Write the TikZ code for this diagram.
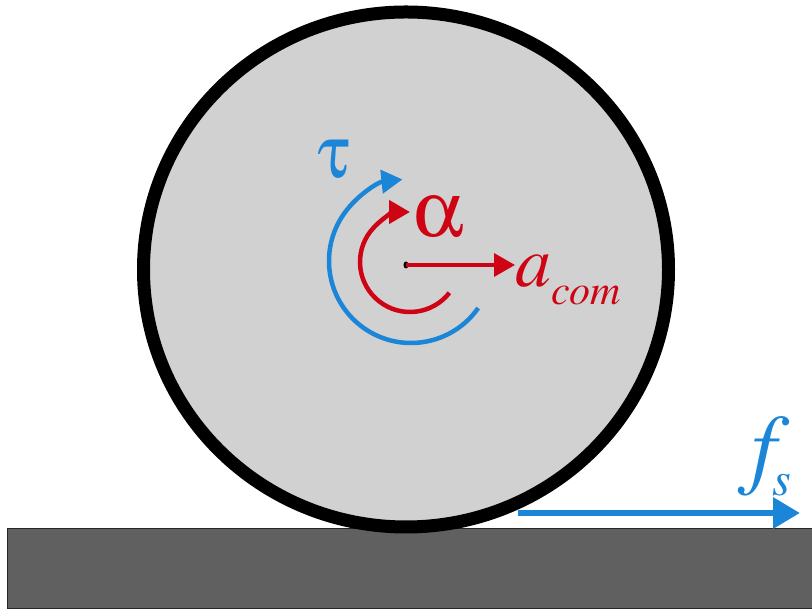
\documentclass[tikz,border=0pt]{standalone}
\usepackage{mathptmx}
\usepackage[Symbol]{upgreek}
\usepackage{xcolor}
\usepackage{tikz}
\usetikzlibrary{arrows.meta,positioning,calc}
\definecolor{wheelgray}{HTML}{D1D1D1}
\definecolor{ground}{HTML}{606060}
\definecolor{torque}{HTML}{1B86D8}
\definecolor{accel}{HTML}{CE0414}
\tikzset{
  >={Triangle[length=21pt,width=23pt]},
  wheel/.style={draw=black,fill=wheelgray,line width=13pt},
  floor/.style={draw=black!85,fill=ground,line width=1pt},
  spin/.style={->,line width=4.5pt},
  push/.style={->,line width=3.5pt,draw=accel},
  symbol/.style={inner sep=0pt,anchor=base west}
}
\begin{document}
\begin{tikzpicture}[x=1pt,y=1pt]
  \clip (0,0) rectangle (812,612);
  \fill[white] (0,0) rectangle (812,612);
  % floor and wheel
  \draw[floor] (7,3) rectangle (814,83);
  \draw[wheel] (406,342.5) ellipse (262.5 and 257.5);
  \coordinate (cm) at (406,347);
  \fill[black] (cm) ellipse (2.5 and 3.5);
  % torque and angular acceleration
  \draw[spin,torque] ([shift={(-35:82)}]411,351) arc (-35:-264:82);
  \draw[spin,accel] ([shift={(-38:50)}]410,350) arc (-38:-270:50);
  \node[symbol,text=torque,font=\fontsize{75}{75}\selectfont] (tau) at (317,434) {$\uptau$};
  \node[symbol,text=accel,font=\fontsize{80}{80}\selectfont] (alpha) at (413,375) {$\upalpha$};
  % linear acceleration of the centre
  \node[symbol,text=accel,font=\fontsize{72}{72}\selectfont] (acom) at (515,325)
    {$a$\raisebox{-18pt}{\fontsize{42}{42}\selectfont$com$}};
  \draw[push] (cm) -- (cm -| acom.west);
  % static friction
  \coordinate (fs0) at (518,99);
  \coordinate (fs1) at (800,99);
  \draw[->,line width=6.5pt,torque,>={Triangle[length=27pt,width=30pt]}] (fs0) -- (fs1);
  \node[symbol,text=torque,font=\fontsize{90}{90}\selectfont] (fs) at (738,134)
    {$f$\hspace{-17pt}\raisebox{-18pt}{\fontsize{48}{48}\selectfont$s$}};
\end{tikzpicture}
\end{document}
